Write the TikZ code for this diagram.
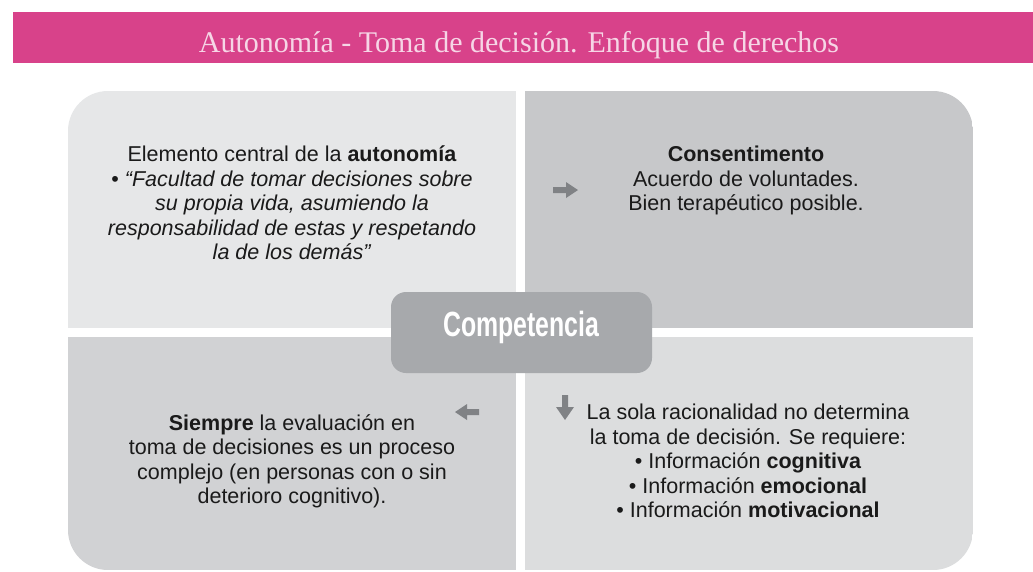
\documentclass[tikz,border=0pt]{standalone}
\usepackage{fontspec}
\setmainfont{Liberation Sans}
\newfontfamily\titlefont{Liberation Serif}
\newfontfamily\compfont{Liberation Sans}[FakeStretch=0.71]
\definecolor{bannerpink}{HTML}{D8428A}
\definecolor{titlepink}{HTML}{F6D6E6}
\definecolor{qtl}{HTML}{E6E7E8}
\definecolor{qtr}{HTML}{C7C8CA}
\definecolor{qbl}{HTML}{D1D2D4}
\definecolor{qbr}{HTML}{DCDDDE}
\definecolor{compgray}{HTML}{A7A9AC}
\definecolor{arrowgray}{HTML}{808285}
\definecolor{textblack}{HTML}{1A1A1A}
\begin{document}
\begin{tikzpicture}[x=1pt,y=-1pt,
  titletext/.style={font=\titlefont\fontsize{30}{34}\selectfont, text=titlepink, inner sep=0pt},
  body/.style={font=\fontsize{21.5}{24.5}\selectfont, align=center, inner sep=0pt, text=textblack},
  compbox/.style={fill=compgray, rounded corners=15pt, minimum width=261pt, minimum height=81pt,
    inner sep=0pt, text=white, font=\compfont\bfseries\fontsize{35}{38}\selectfont,
    text height=0.72em, text depth=0pt},
  garrow/.style={fill=arrowgray}]
\useasboundingbox (0,0) rectangle (1033,571);
\fill[white] (0,0) rectangle (1033,571);
% banner
\fill[bannerpink] (13,12) rectangle (1033,63);
\node[titletext, anchor=base] (title) at (519,52) {Autonomía - Toma de decisión. Enfoque de derechos};
% quadrants
\begin{scope}
\clip[rounded corners=40pt] (68,91) rectangle (973,570);
\fill[qtl] (68,91) rectangle (521,333);
\fill[qtr] (521,91) rectangle (973,333);
\fill[qbl] (68,333) rectangle (521,570);
\fill[qbr] (521,333) rectangle (973,570);
\end{scope}
\fill[white] (68,328) rectangle (973,337);
\fill[white] (516,91) rectangle (525,570);
% texts
\node[body, anchor=north] (tl) at (292,146) {Elemento central de la \textbf{autonomía}\\
  • \textit{“Facultad de tomar decisiones sobre}\\
  \textit{su propia vida, asumiendo la}\\
  \textit{responsabilidad de estas y respetando}\\
  \textit{la de los demás”}};
\node[body, anchor=north] (tr) at (746,146) {\textbf{Consentimento}\\
  Acuerdo de voluntades.\\
  Bien terapéutico posible.};
\node[body, anchor=north] (bl) at (292,414) {\textbf{Siempre} la evaluación en\\
  toma de decisiones es un proceso\\
  complejo (en personas con o sin\\
  deterioro cognitivo).};
\node[body, anchor=north] (br) at (748,404) {La sola racionalidad no determina\\
  la toma de decisión. Se requiere:\\
  • Información \textbf{cognitiva}\\
  • Información \textbf{emocional}\\
  • Información \textbf{motivacional}};
% arrows
\fill[garrow] (553,187) -- (566,187) -- (566,182) -- (578,190) -- (566,198) -- (566,193) -- (553,193) -- cycle;
\fill[garrow] (479,409) -- (467,409) -- (467,404) -- (455,412) -- (467,420) -- (467,415) -- (479,415) -- cycle;
\fill[garrow] (562,395) -- (568,395) -- (568,407) -- (574,407) -- (565,420) -- (556,407) -- (562,407) -- cycle;
% centre
\node[compbox] (comp) at (521.5,332.5) {Competencia};
\end{tikzpicture}
\end{document}
